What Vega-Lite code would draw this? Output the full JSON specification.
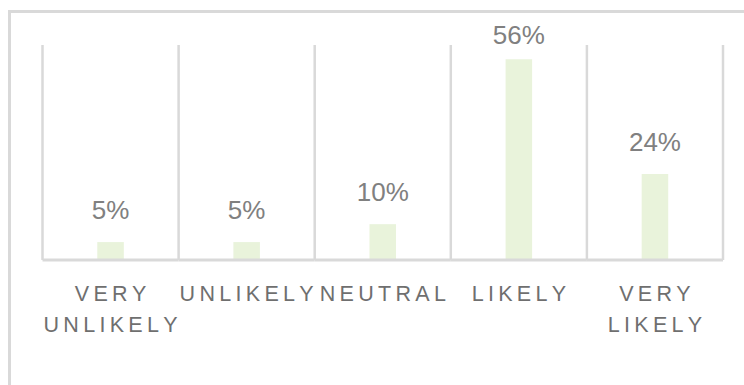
{
  "$schema": "https://vega.github.io/schema/vega-lite/v6.json",
  "width": 746.5,
  "height": 380,
  "autosize": {"type": "none"},
  "padding": {"left": 9.5, "top": 11.5, "right": 0, "bottom": 0},
  "background": "white",
  "config": {
    "view": {"stroke": "#d9d9d9", "strokeWidth": 3},
    "font": "Liberation Sans"
  },
  "data": {
    "values": [
      {"response": "VERY UNLIKELY", "share": 0.05},
      {"response": "UNLIKELY", "share": 0.05},
      {"response": "NEUTRAL", "share": 0.10},
      {"response": "LIKELY", "share": 0.56},
      {"response": "VERY LIKELY", "share": 0.24}
    ]
  },
  "resolve": {"scale": {"x": "shared", "y": "shared"}},
  "layer": [
    {
      "mark": {"type": "bar", "color": "#E9F3DB", "width": {"band": 0.195}},
      "encoding": {
        "x": {
          "field": "response", "type": "nominal", "sort": null,
          "scale": {"paddingInner": 0, "paddingOuter": 0.2425},
          "axis": {
            "title": null,
            "orient": "bottom",
            "offset": -131.5,
            "domain": false,
            "ticks": false,
            "grid": false,
            "labelAngle": 0,
            "labelFont": "Liberation Sans",
            "labelFontSize": 21.5,
            "labelColor": "#6f6f6f",
            "labelPadding": 23,
            "labelLineHeight": 31.5,
            "labelBaseline": "top",
            "labelOverlap": false,
            "labelExpr": "split(replace(datum.label, regexp('(\\\\S)(?=\\\\S)', 'g'), '$1\u2009'), ' ')"
          }
        },
        "y": {
          "field": "share", "type": "quantitative",
          "scale": {"domain": [-0.367, 0.6935], "nice": false, "zero": false},
          "axis": null
        }
      }
    },
    {
      "mark": {"type": "rule", "color": "#d9d9d9", "strokeWidth": 2.5},
      "encoding": {
        "x": {"field": "response", "type": "nominal", "sort": null, "bandPosition": 0},
        "y": {"datum": 0, "type": "quantitative"},
        "y2": {"datum": 0.6}
      }
    },
    {
      "transform": [{"filter": "datum.response === 'VERY LIKELY'"}],
      "mark": {"type": "rule", "color": "#d9d9d9", "strokeWidth": 2.5},
      "encoding": {
        "x": {"field": "response", "type": "nominal", "sort": null, "bandPosition": 1},
        "y": {"datum": 0, "type": "quantitative"},
        "y2": {"datum": 0.6}
      }
    },
    {
      "mark": {"type": "rule", "color": "#d9d9d9", "strokeWidth": 3},
      "encoding": {
        "x": {"field": "response", "type": "nominal", "sort": null, "bandPosition": 0},
        "x2": {"field": "response", "bandPosition": 1},
        "y": {"datum": 0, "type": "quantitative"}
      }
    },
    {
      "mark": {"type": "text", "baseline": "alphabetic", "dy": {"expr": "datum.share > 0.5 ? -15.5 : -23"}, "fontSize": 26, "color": "#808080", "font": "Liberation Sans"},
      "encoding": {
        "x": {"field": "response", "type": "nominal", "sort": null},
        "y": {"field": "share", "type": "quantitative"},
        "text": {"field": "share", "type": "quantitative", "format": ".0%"}
      }
    }
  ]
}
